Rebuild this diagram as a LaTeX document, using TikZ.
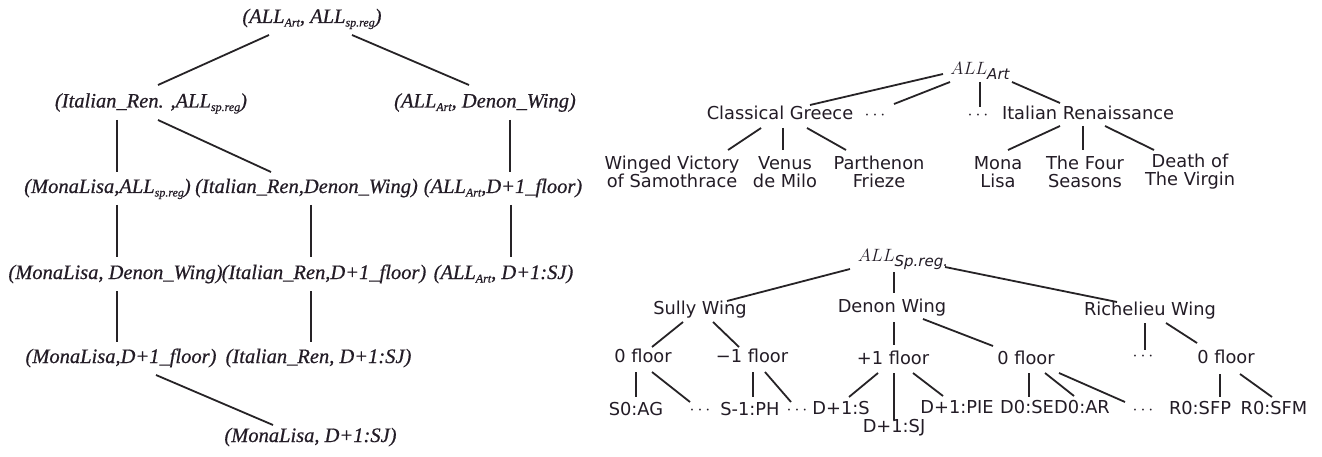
\RequirePackage{fix-cm}
\documentclass[tikz,border=0pt]{standalone}
\usepackage{fontspec}
\setmainfont{DejaVu Sans}
\newfontfamily\lserif{Liberation Serif}[ItalicFeatures={FakeBold=0.6}]
\usetikzlibrary{calc}
\definecolor{ink}{HTML}{231C26}
\definecolor{edgec}{HTML}{262326}
\newcommand\lsub[1]{\raisebox{-3.5pt}{\fontsize{12}{12}\selectfont #1}}
\newcommand\rsub[1]{\raisebox{-5pt}{\fontsize{15}{15}\selectfont\itshape #1}}
\tikzset{
  lt/.style={font=\lserif\itshape\fontsize{20.5}{24}\selectfont, text height=15pt, text depth=5pt, inner sep=0pt, text=ink},
  rt/.style={font=\fontsize{17.8}{18.5}\selectfont, text height=13.5pt, text depth=4pt, inner sep=0pt, text=ink},
  rtt/.style={font=\fontsize{17.8}{18}\selectfont, align=center, inner sep=0pt, text=ink},
  ln/.style={draw=edgec, line width=1.8pt},
}
\newcommand\E[4]{\draw[ln] ($(#1)+(#2)$) -- ($(#3)+(#4)$);}
\begin{document}
\begin{tikzpicture}[x=1pt,y=-1pt]
\fill[white] (0,0) rectangle (1322,457);
\useasboundingbox (0,0) rectangle (1322,457);
% ---------- left lattice ----------
\node[lt] (L1) at (312,18) {(ALL\lsub{Art}, ALL\lsub{sp.reg})};
\node[lt] (L2a) at (151,102.5) {(Italian\_Ren. ,ALL\lsub{sp.reg})};
\node[lt] (L2b) at (485,102.5) {(ALL\lsub{Art}, Denon\_Wing)};
\node[lt] (L3a) at (107.5,188) {(MonaLisa,ALL\lsub{sp.reg})};
\node[lt] (L3b) at (306.5,188) {(Italian\_Ren,Denon\_Wing)};
\node[lt] (L3c) at (503,188) {(ALL\lsub{Art},D+1\_floor)};
\node[lt] (L4a) at (115.5,274) {(MonaLisa, Denon\_Wing)};
\node[lt] (L4b) at (324,274) {(Italian\_Ren,D+1\_floor)};
\node[lt] (L4c) at (503.5,274) {(ALL\lsub{Art}, D+1:SJ)};
\node[lt] (L5a) at (121,358) {(MonaLisa,D+1\_floor)};
\node[lt] (L5b) at (318.5,358) {(Italian\_Ren, D+1:SJ)};
\node[lt] (L6) at (310.5,437) {(MonaLisa, D+1:SJ)};
\E{L1}{-43,17}{L2a}{7,-17.5}
\E{L1}{40,17}{L2b}{-16,-17.5}
\E{L2a}{-34,17.5}{L3a}{9.5,-16}
\E{L2a}{7,17.5}{L3b}{-35.5,-16}
\E{L2b}{25,17.5}{L3c}{7,-16}
\E{L3a}{9.5,17}{L4a}{1.5,-17}
\E{L3b}{4.5,17}{L4b}{-13,-17}
\E{L3c}{8,17}{L4c}{7.5,-17}
\E{L4a}{1.5,17}{L5a}{-4,-16}
\E{L4b}{-13,17}{L5b}{-7.5,-16}
\E{L5a}{35,17}{L6}{-37.5,-12}
% ---------- art hierarchy ----------
\node[rt] (T0) at (980,70) {$ALL$\rsub{Art}};
\node[rt] (T1) at (780,115) {Classical Greece};
\node[rt] (T1d) at (875,115) {$\cdots$};
\node[rt] (T2d) at (978,115) {$\cdots$};
\node[rt] (T2) at (1088,115) {Italian Renaissance};
\node[rtt] (T11) at (672,172) {Winged Victory\\of Samothrace};
\node[rtt] (T12) at (785,172) {Venus\\de Milo};
\node[rtt] (T13) at (879,172) {Parthenon\\Frieze};
\node[rtt] (T21) at (998,172) {Mona\\Lisa};
\node[rtt] (T22) at (1085,172) {The Four\\Seasons};
\node[rtt] (T23) at (1190,172) {Death of\\The Virgin};
\E{T0}{-37,4}{T1}{30,-10}
\E{T0}{-30,12}{T1d}{19,-11}
\E{T0}{0,12}{T2d}{2,-8}
\E{T0}{32,12}{T2}{-28,-12}
\E{T1}{-19,13}{T11}{56,-22}
\E{T1}{3,13}{T12}{-2,-22}
\E{T1}{27,13}{T13}{-33,-22}
\E{T2}{-28,11}{T21}{10,-22}
\E{T2}{-5,11}{T22}{-2,-22}
\E{T2}{17,11}{T23}{-36,-22}
% ---------- spatial hierarchy ----------
\node[rt] (B0) at (903,257) {$ALL$\rsub{Sp.reg.}};
\node[rt] (B1) at (700,310) {Sully Wing};
\node[rt] (B2) at (892,308) {Denon Wing};
\node[rt] (B3) at (1150,311) {Richelieu Wing};
\node[rt] (B11) at (643,358) {0 floor};
\node[rt] (B12) at (752,358) {−1 floor};
\node[rt] (B21) at (893,360) {+1 floor};
\node[rt] (B22) at (1026,360) {0 floor};
\node[rt] (B31) at (1143,356) {$\cdots$};
\node[rt] (B32) at (1226,359) {0 floor};
\node[rt] (B111) at (636,411) {S0:AG};
\node[rt] (B112) at (700,410) {$\cdots$};
\node[rt] (B121) at (750,411) {S-1:PH};
\node[rt] (B122) at (797,410) {$\cdots$};
\node[rt] (B211) at (841,410) {D+1:S};
\node[rt] (B212) at (894,428) {D+1:SJ};
\node[rt] (B213) at (957,409) {D+1:PIE};
\node[rt] (B221) at (1027,409) {D0:SE};
\node[rt] (B222) at (1082,409) {D0:AR};
\node[rt] (B223) at (1143,410) {$\cdots$};
\node[rt] (B321) at (1200,410) {R0:SFP};
\node[rt] (B322) at (1274,410) {R0:SFM};
\E{B0}{-53,12}{B1}{27,-9}
\E{B0}{-9,15}{B2}{2,-15}
\E{B0}{42,10}{B3}{-33,-9}
\E{B1}{-17,12}{B11}{9,-11}
\E{B1}{13,12}{B12}{-13,-11}
\E{B2}{2,14}{B21}{1,-15}
\E{B2}{31,11}{B22}{-33,-14}
\E{B3}{-5,12}{B31}{2,-6}
\E{B3}{16,12}{B32}{-29,-16}
\E{B11}{-7,14}{B111}{0,-14}
\E{B11}{9,14}{B112}{-10,-8}
\E{B12}{1,14}{B121}{3,-14}
\E{B12}{13,14}{B122}{-6,-8}
\E{B21}{-15,13}{B211}{8,-13}
\E{B21}{1,13}{B212}{0,-8}
\E{B21}{20,13}{B213}{-14,-13}
\E{B22}{3,13}{B221}{2,-12}
\E{B22}{19,13}{B222}{-8,-13}
\E{B22}{33,13}{B223}{-18,-8}
\E{B32}{-6,15}{B321}{20,-13}
\E{B32}{14,15}{B322}{-2,-13}
\end{tikzpicture}
\end{document}
